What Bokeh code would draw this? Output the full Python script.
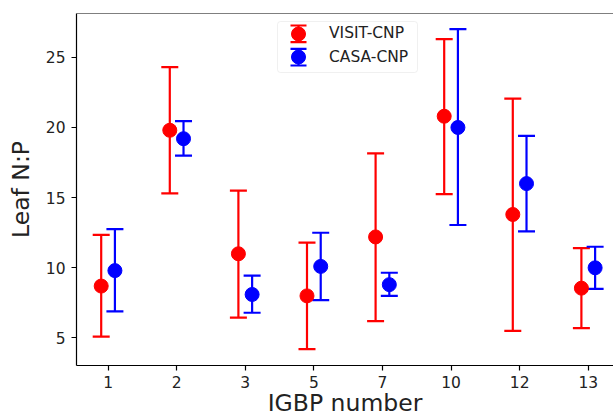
import numpy as np
from bokeh.plotting import figure
from bokeh.models import (ColumnDataSource, Whisker, TeeHead, Range1d, FixedTicker,
                          Legend, LegendItem, Span, BoxAnnotation)
from bokeh.embed import file_html
from bokeh.resources import INLINE

# ---- data ----
igbp = ["1", "2", "3", "5", "7", "10", "12", "13"]
visit_mean = [8.7, 19.8, 11.0, 8.0, 12.2, 20.8, 13.8, 8.55]
visit_low = [5.1, 15.3, 6.45, 4.2, 6.2, 15.25, 5.5, 5.7]
visit_high = [12.35, 24.3, 15.5, 11.8, 18.15, 26.3, 22.05, 11.4]
casa_mean = [9.8, 19.2, 8.1, 10.1, 8.8, 20.0, 16.0, 10.0]
casa_low = [6.9, 18.0, 6.8, 7.7, 8.0, 13.05, 12.6, 8.5]
casa_high = [12.75, 20.45, 9.45, 12.5, 9.65, 27.0, 19.4, 11.5]
y_ticks = [5, 10, 15, 20, 25]

FONT = "DejaVu Sans"
TXT = "#222222"
RED = "#ff0000"
BLUE = "#0000ff"

idx = np.arange(len(igbp))
dodge = 0.1

p = figure(width=613, height=419, output_backend="svg", toolbar_location=None,
           x_range=Range1d(-0.46, 7.368), y_range=Range1d(3.04, 28.12),
           min_border_left=76, min_border_right=0, min_border_top=13, min_border_bottom=54)
p.outline_line_color = None
p.xgrid.visible = False
p.ygrid.visible = False

src_v = ColumnDataSource(dict(x=idx - dodge, y=visit_mean, lo=visit_low, hi=visit_high))
src_c = ColumnDataSource(dict(x=idx + dodge, y=casa_mean, lo=casa_low, hi=casa_high))

for src, col in ((src_v, RED), (src_c, BLUE)):
    w = Whisker(source=src, base="x", lower="lo", upper="hi", dimension="height",
                line_color=col, line_width=2.2,
                upper_head=TeeHead(size=17, line_color=col, line_width=2.2),
                lower_head=TeeHead(size=17, line_color=col, line_width=2.2))
    p.add_layout(w)

r_v = p.scatter("x", "y", source=src_v, size=14, fill_color=RED, line_color=RED)
r_c = p.scatter("x", "y", source=src_c, size=14, fill_color=BLUE, line_color=BLUE)

# top spine
p.add_layout(Span(location=p.y_range.end, dimension="width", line_color="black", line_width=1.2))

# axes
p.xaxis.ticker = FixedTicker(ticks=list(idx))
p.xaxis.major_label_overrides = {int(i): lab for i, lab in zip(idx, igbp)}
p.yaxis.ticker = FixedTicker(ticks=y_ticks)
for ax in (p.xaxis[0], p.yaxis[0]):
    ax.minor_tick_line_color = None
    ax.major_tick_out = 5
    ax.major_tick_in = 0
    ax.axis_line_color = "black"
    ax.axis_line_width = 1.2
    ax.major_tick_line_width = 1.2
    ax.major_label_text_font = FONT
    ax.major_label_text_font_size = "15.5px"
    ax.major_label_text_color = TXT
    ax.axis_label_text_font = FONT
    ax.axis_label_text_font_size = "23.5px"
    ax.axis_label_text_font_style = "normal"
    ax.axis_label_text_color = TXT
p.xaxis.axis_label = "IGBP number"
p.yaxis.axis_label = "Leaf N:P"
p.xaxis.major_label_standoff = 5
p.xaxis.axis_label_standoff = -2
p.yaxis.major_label_standoff = 6
p.yaxis.axis_label_standoff = 8

# legend: frame border + two single-row legends + error-bar icons (screen units from frame bottom-left)
p.add_layout(BoxAnnotation(left=201, right=341, bottom=293, top=344,
                           left_units="screen", right_units="screen",
                           bottom_units="screen", top_units="screen",
                           fill_color="white", fill_alpha=0.8, line_color="#cccccc",
                           line_width=1, border_radius=3, level="overlay"))
icon_col = [RED, BLUE]
icon = ColumnDataSource(dict(bx=[222, 222], lo=[323.4, 300.0], hi=[340.0, 316.6], c=icon_col))
p.add_layout(Whisker(source=icon, base="bx", lower="lo", upper="hi", dimension="height",
                     base_units="screen", lower_units="screen", upper_units="screen",
                     line_color="c", line_width=2.2, level="overlay",
                     upper_head=TeeHead(size=16, line_color="c", line_width=2.2),
                     lower_head=TeeHead(size=16, line_color="c", line_width=2.2)))
for lab, rend, ybot in (("VISIT-CNP", r_v, 314.2), ("CASA-CNP", r_c, 290.8)):
    lg = Legend(items=[LegendItem(label=lab, renderers=[rend])],
                location=(201, ybot), glyph_width=42, glyph_height=35, label_height=20,
                padding=0, margin=0, label_standoff=10,
                label_text_font=FONT, label_text_font_size="15.5px", label_text_color=TXT,
                border_line_color=None, background_fill_alpha=0.0)
    p.add_layout(lg)

open("out.html", "w").write(file_html(p, INLINE))
